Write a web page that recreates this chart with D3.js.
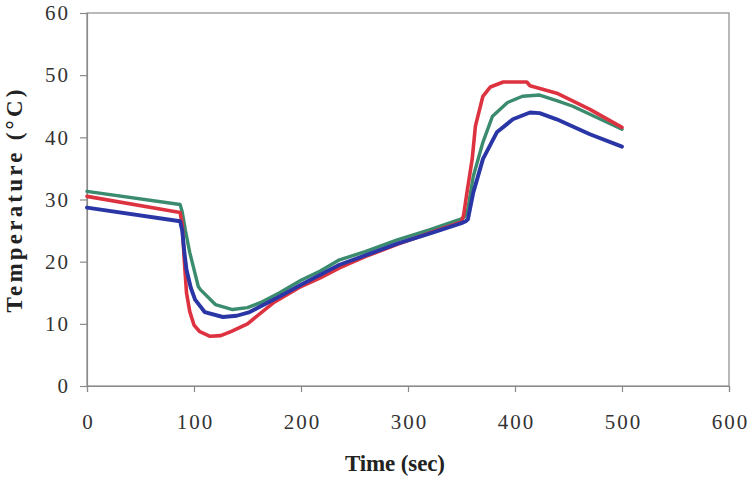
<!DOCTYPE html>
<html><head><meta charset="utf-8">
<script src="https://cdn.jsdelivr.net/npm/d3@7"></script>
<style>body{margin:0;background:#fff}</style>
</head><body>
<svg id="c" width="750" height="480"></svg>
<script>
const xTicks = [0,100,200,300,400,500,600];
const yTicks = [0,10,20,30,40,50,60];

const redTime = [0,87,89,91,93,96,100,105,115,125,135,150,175,200,218,236,260,290,320,350,352,355,360,363,370,377,389,411,414,439,470,500];
const redTemp = [30.5,27.9,26,20,15,12,9.8,8.8,8.0,8.1,8.8,10.0,13.5,16.0,17.4,19.0,20.8,22.8,24.6,26.4,27.5,31,36.5,41.8,46.6,48.1,48.9,48.9,48.3,47.1,44.5,41.6];

const greenTime = [0,87,89,92,96,104,106,120,136,150,162,180,200,218,236,260,290,320,350,353,356,361,370,379,393,407,423,439,454,500];
const greenTemp = [31.3,29.2,28,25,21.5,16,15.5,13.1,12.3,12.6,13.4,15.0,17.0,18.5,20.3,21.6,23.5,25.1,26.9,27.2,28.5,33.7,39.2,43.4,45.6,46.6,46.8,45.9,45,41.3];

const blueTime = [0,87,89,91,93,97,101,110,127,140,152,180,200,218,236,260,290,320,350,354,356,361,370,383,398,414,423,439,470,500];
const blueTemp = [28.7,26.5,25,21.5,18.7,15.8,13.9,11.9,11.1,11.3,11.9,14.4,16.3,17.9,19.5,21.0,22.9,24.5,26.2,26.5,26.8,31.1,36.5,40.8,42.9,44.0,43.9,42.9,40.5,38.5];

const series = [
  {name:"green", t:greenTime, v:greenTemp, color:"#3b8c6e", w:3.4},
  {name:"red", t:redTime, v:redTemp, color:"#dd3340", w:3.6},
  {name:"blue", t:blueTime, v:blueTemp, color:"#2a36a6", w:3.9}
];

const L=87, R=729, T=13, B=386;
const svg = d3.select("#c");
const x = d3.scaleLinear().domain([0,600]).range([L,R]);
const y = d3.scaleLinear().domain([0,60]).range([B,T]);
const axisColor="#8a8a8a";
const font="Liberation Serif, Times New Roman, serif";

svg.append("rect").attr("x",L).attr("y",T).attr("width",R-L).attr("height",B-T)
  .attr("fill","none").attr("stroke",axisColor).attr("stroke-width",1.2);

const xa = svg.append("g").attr("transform",`translate(0,${B})`)
  .call(d3.axisBottom(x).tickValues(xTicks).tickSize(6).tickPadding(22).tickFormat(d3.format("d")));
const ya = svg.append("g").attr("transform",`translate(${L},0)`)
  .call(d3.axisLeft(y).tickValues(yTicks).tickSize(7).tickPadding(12).tickFormat(d3.format("d")));
[xa,ya].forEach(g=>{
  g.select(".domain").attr("stroke",axisColor).attr("stroke-width",1.2);
  g.selectAll(".tick line").attr("stroke",axisColor).attr("stroke-width",1.2);
  g.selectAll("text").attr("font-family",font).attr("font-size",21).attr("fill","#333")
    .style("letter-spacing","2px");
});
xa.selectAll("text").attr("dx","1px");
ya.selectAll("text").attr("dx","2px");

const line = d3.line().x(d=>x(d[0])).y(d=>y(d[1]));
series.forEach(s=>{
  svg.append("path").datum(s.t.map((t,i)=>[t,s.v[i]]))
    .attr("d",line).attr("fill","none").attr("stroke",s.color)
    .attr("stroke-width",s.w).attr("stroke-linejoin","round").attr("stroke-linecap","round");
});

svg.append("text").attr("x",395).attr("y",471).attr("text-anchor","middle")
  .attr("font-family",font).attr("font-weight","bold").attr("font-size",23).attr("fill","#222")
  .attr("textLength",100).attr("lengthAdjust","spacing")
  .text("Time (sec)");
svg.append("text").attr("transform","translate(22,201) rotate(-90)").attr("text-anchor","middle")
  .attr("font-family",font).attr("font-weight","bold").attr("font-size",23).attr("fill","#222")
  .attr("textLength",223).attr("lengthAdjust","spacing")
  .text("Temperature (°C)");
</script>
</body></html>
